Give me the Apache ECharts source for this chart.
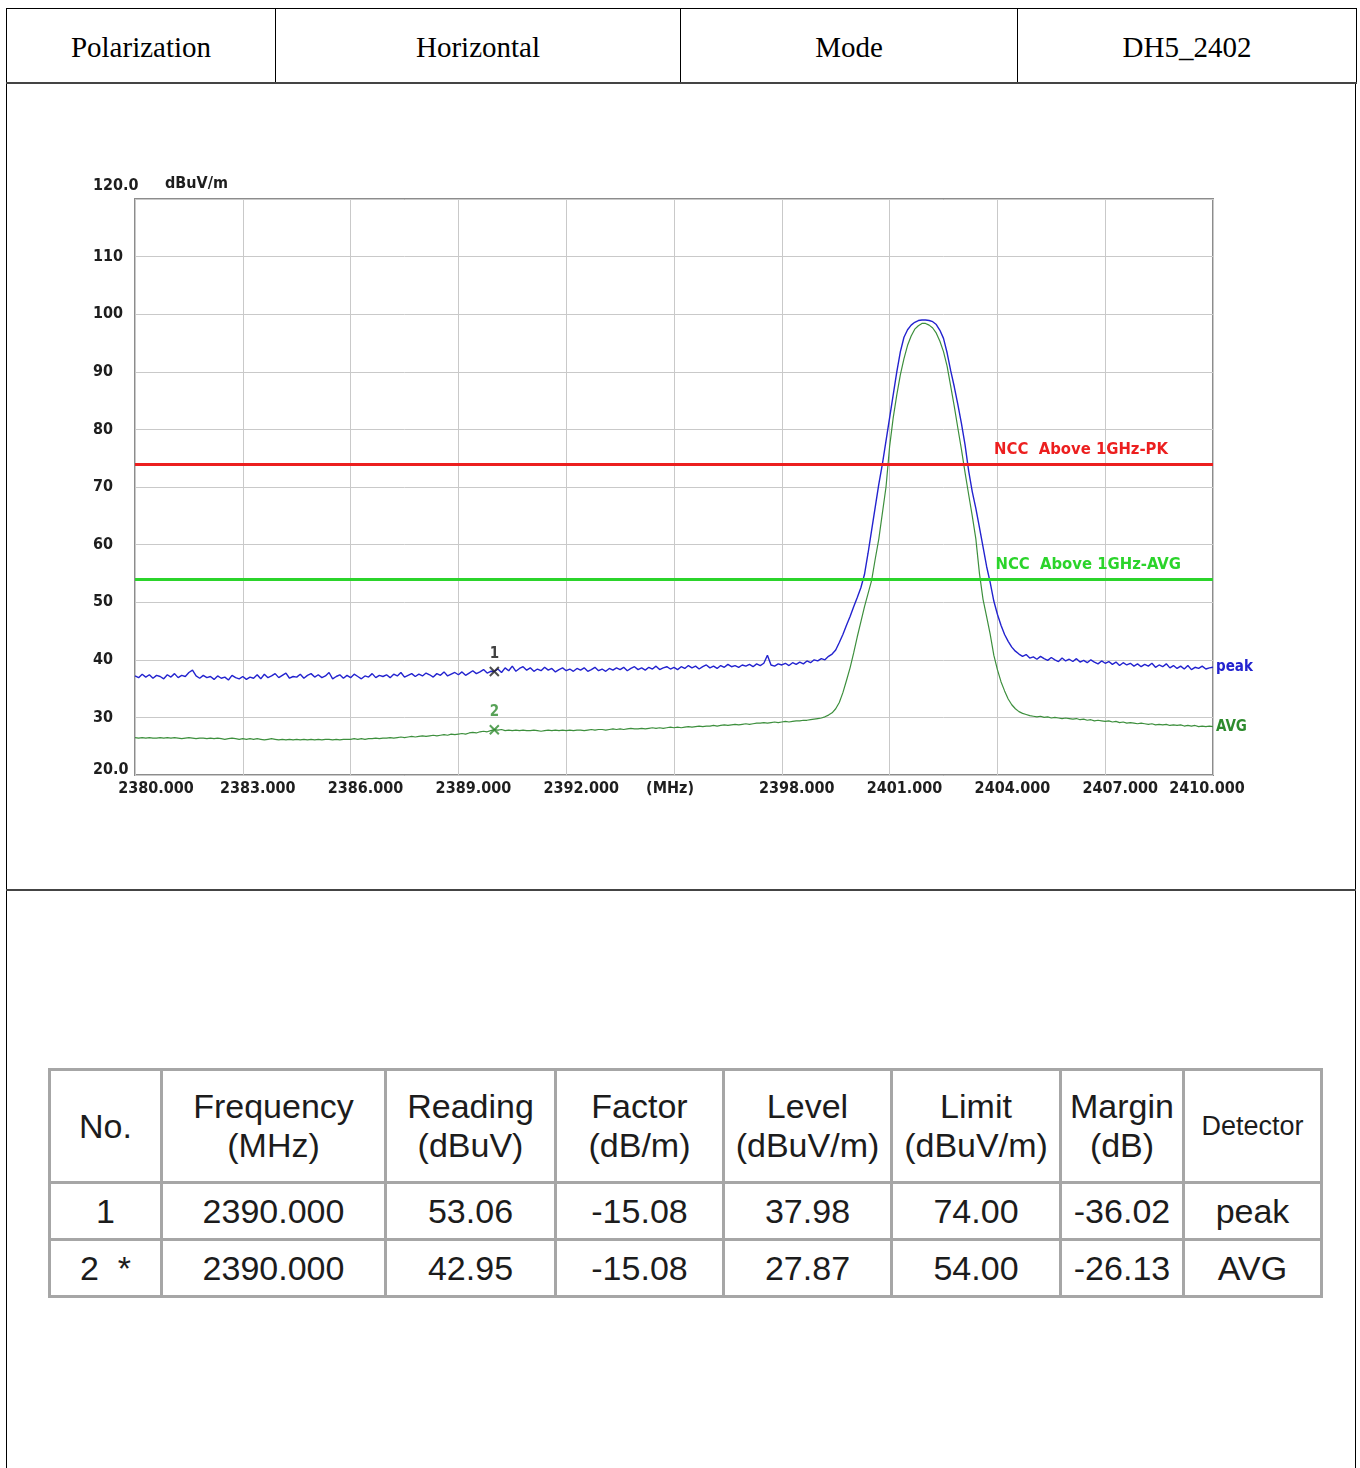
<!DOCTYPE html>
<html>
<head>
<meta charset="utf-8">
<script src="https://cdn.jsdelivr.net/npm/echarts@6/dist/echarts.min.js"></script>
<style>
html,body{margin:0;padding:0;background:#fff;}
body{width:1360px;height:1468px;position:relative;overflow:hidden;}
#hdr{position:absolute;left:6px;top:8px;width:1350px;height:76px;border-collapse:collapse;table-layout:fixed;font-family:'Liberation Serif','Times New Roman',serif;font-size:29px;color:#000;}
#hdr td{border:1px solid #000;text-align:center;vertical-align:middle;padding:4px 0 0 0;}
#hdr tr td{border-bottom:2px solid #444;}
.vl{position:absolute;top:84px;width:1px;height:1400px;background:#000;}
.hl{position:absolute;left:6px;width:1350px;height:2px;background:#444;}
#chart{position:absolute;left:85px;top:165px;width:1190px;height:645px;}
#dt{position:absolute;left:48px;top:1068px;width:1272px;border-collapse:collapse;table-layout:fixed;font-family:'Liberation Sans',Arial,sans-serif;color:#1c1c1c;}
#dt td{border:3px solid #a6a6a6;text-align:center;vertical-align:middle;padding:0;font-size:34px;}
#dt tr.h td{height:110px;line-height:39px;}
#dt tr.r td{height:54px;}
#dt td.det{font-size:27px;}
</style>
</head>
<body>
<table id="hdr"><colgroup><col style="width:269px"><col style="width:405px"><col style="width:337px"><col style="width:339px"></colgroup>
<tr><td>Polarization</td><td>Horizontal</td><td>Mode</td><td>DH5_2402</td></tr></table>
<div class="vl" style="left:6px"></div>
<div class="vl" style="left:1355px"></div>
<div class="hl" style="top:889px"></div>
<div id="chart"></div>
<table id="dt">
<colgroup><col style="width:112px"><col style="width:224px"><col style="width:170px"><col style="width:168px"><col style="width:168px"><col style="width:169px"><col style="width:123px"><col style="width:138px"></colgroup>
<tr class="h"><td>No.</td><td>Frequency<br>(MHz)</td><td>Reading<br>(dBuV)</td><td>Factor<br>(dB/m)</td><td>Level<br>(dBuV/m)</td><td>Limit<br>(dBuV/m)</td><td>Margin<br>(dB)</td><td class="det">Detector</td></tr>
<tr class="r"><td>1</td><td>2390.000</td><td>53.06</td><td>-15.08</td><td>37.98</td><td>74.00</td><td>-36.02</td><td>peak</td></tr>
<tr class="r"><td>2&nbsp;&nbsp;*</td><td>2390.000</td><td>42.95</td><td>-15.08</td><td>27.87</td><td>54.00</td><td>-26.13</td><td>AVG</td></tr>
</table>
<script>
// sweep grid (MHz)
const freqStart = 2380, freqStep = 0.1;

// Peak detector trace (dBuV/m), one value per 0.1 MHz from 2380.0 to 2410.0
const peakTrace = [
37.2,36.9,37.5,37.0,37.4,36.8,37.3,37.1,36.7,37.4,
37.0,37.6,36.9,37.3,37.1,37.8,38.2,37.2,36.8,37.3,
36.9,37.1,36.6,37.2,36.8,37.0,36.5,37.3,36.9,36.7,
37.1,36.6,37.0,36.8,37.4,36.7,37.5,36.9,37.2,37.6,
36.9,37.3,37.7,36.8,37.1,37.0,37.5,36.8,37.3,37.6,
37.0,37.4,36.9,37.2,37.8,36.7,37.1,37.4,36.8,37.3,
36.9,37.5,37.1,36.7,37.2,37.0,37.6,36.9,37.3,37.1,
37.4,36.9,37.5,37.2,37.8,37.0,37.3,37.6,37.1,37.5,
37.2,37.7,37.4,37.0,37.6,37.3,37.9,37.2,37.5,37.8,
37.4,37.9,37.3,37.7,38.1,37.6,37.9,38.3,37.7,38.0,
37.98,38.4,37.8,38.6,38.1,38.9,38.0,38.5,38.8,38.2,
38.6,38.0,38.4,38.1,38.7,38.2,38.5,37.9,38.3,38.6,
38.1,38.4,38.0,38.5,38.2,38.6,38.0,38.3,38.7,38.1,
38.4,38.0,38.5,38.2,38.6,38.3,38.7,38.1,38.5,38.8,
38.3,38.6,38.2,38.7,38.4,38.9,38.3,38.6,38.8,38.4,
38.7,38.3,38.8,38.5,39.0,38.6,38.9,38.4,38.8,39.1,
38.6,38.9,38.5,39.0,38.7,39.2,38.8,39.0,38.7,39.1,
38.9,39.2,38.8,39.3,39.0,39.4,40.8,39.1,38.9,39.3,
39.1,39.4,39.0,39.5,39.2,39.6,39.3,39.8,39.5,40.0,
39.8,40.2,40.0,40.6,41.0,41.7,43.0,44.4,46.0,47.5,
49.2,50.8,52.5,54.8,58.5,62.5,66.5,70.5,74.0,78.0,
82.0,86.0,90.0,93.5,96.0,97.3,98.1,98.6,98.9,99.0,
99.0,98.9,98.7,98.2,97.2,95.8,93.3,90.2,87.4,84.3,
81.0,77.3,72.8,69.2,66.3,63.0,59.6,56.2,53.4,50.2,
47.9,46.0,44.4,43.2,42.2,41.5,41.0,40.6,40.9,40.3,
40.5,40.1,40.6,40.2,39.9,40.4,40.0,39.7,40.3,39.8,
40.1,39.7,40.2,39.6,39.9,39.5,40.0,39.6,39.3,39.8,
39.4,39.7,39.2,39.6,39.0,39.5,39.1,39.4,38.9,39.3,
38.8,39.2,38.9,39.4,38.7,39.1,38.8,39.3,38.6,39.0,
38.5,38.9,38.4,39.0,38.3,38.7,38.5,38.9,38.4,38.6,
38.7
];

// Average detector trace (dBuV/m), same grid
const avgTrace = [
26.5,26.4,26.5,26.4,26.5,26.4,26.4,26.5,26.4,26.5,
26.4,26.5,26.4,26.3,26.4,26.5,26.4,26.3,26.4,26.4,
26.3,26.4,26.3,26.4,26.3,26.2,26.3,26.4,26.3,26.2,
26.3,26.2,26.3,26.2,26.3,26.2,26.1,26.2,26.3,26.2,
26.1,26.2,26.1,26.2,26.1,26.2,26.1,26.2,26.1,26.2,
26.1,26.2,26.1,26.2,26.2,26.1,26.2,26.1,26.2,26.2,
26.2,26.3,26.2,26.3,26.2,26.3,26.3,26.4,26.3,26.4,
26.4,26.5,26.4,26.5,26.6,26.5,26.6,26.7,26.6,26.7,
26.8,26.7,26.8,26.9,26.8,26.9,27.0,26.9,27.1,27.0,
27.1,27.2,27.1,27.3,27.4,27.3,27.5,27.6,27.5,27.7,
27.87,27.8,27.9,27.7,27.8,27.7,27.8,27.7,27.8,27.7,
27.7,27.8,27.7,27.6,27.7,27.8,27.7,27.8,27.7,27.8,
27.7,27.8,27.7,27.8,27.8,27.7,27.8,27.9,27.8,27.9,
27.9,27.8,27.9,28.0,27.9,28.0,27.9,28.0,28.1,28.0,
28.0,28.1,28.0,28.1,28.2,28.1,28.2,28.1,28.2,28.3,
28.2,28.3,28.2,28.3,28.4,28.3,28.4,28.5,28.4,28.5,
28.5,28.6,28.5,28.6,28.7,28.6,28.7,28.8,28.7,28.8,
28.9,28.8,28.9,29.0,29.0,29.1,29.0,29.1,29.2,29.1,
29.2,29.3,29.2,29.3,29.4,29.4,29.5,29.5,29.6,29.7,
29.8,29.9,30.1,30.4,30.8,31.5,32.6,34.3,36.4,38.6,
41.2,44.0,46.6,49.2,51.5,53.8,57.5,61.0,65.5,70.0,
77.0,82.0,86.0,89.5,92.3,94.6,96.2,97.4,98.0,98.4,
98.4,98.1,97.6,96.7,95.3,93.5,91.0,87.5,84.0,80.2,
76.5,72.5,68.7,65.0,61.0,55.0,50.5,47.5,44.4,40.8,
38.3,36.2,34.6,33.2,32.2,31.5,31.0,30.7,30.5,30.3,
30.2,30.1,30.2,30.0,30.1,29.9,30.0,29.9,29.8,29.9,
29.8,29.7,29.8,29.6,29.7,29.5,29.6,29.4,29.5,29.4,
29.3,29.4,29.2,29.3,29.1,29.2,29.0,29.1,29.0,28.9,
29.0,28.9,28.8,28.9,28.7,28.8,28.7,28.8,28.6,28.7,
28.6,28.7,28.5,28.6,28.5,28.6,28.4,28.5,28.4,28.5,
28.4
];

// limit lines
const limitValues = [74, 54];
const limitNames = ['NCC  Above 1GHz-PK', 'NCC  Above 1GHz-AVG'];

// markers
const markerNo = ['1', '2'];
const markerFreq = [2390.0, 2390.0];
const markerLevel = [37.98, 27.87];

// axis tick labels
const xTickValues = [2380, 2383, 2386, 2389, 2392, 2395, 2398, 2401, 2404, 2407, 2410];
const xTickLabels = ['2380.000', '2383.000', '2386.000', '2389.000', '2392.000', '(MHz)', '2398.000', '2401.000', '2404.000', '2407.000', '2410.000'];
const yTickValues = [20, 30, 40, 50, 60, 70, 80, 90, 100, 110, 120];
const yTickLabels = ['20.0', '30', '40', '50', '60', '70', '80', '90', '100', '110', '120.0'];
const yUnit = 'dBuV/m';

const FONT = "'DejaVu Sans Condensed','DejaVu Sans',sans-serif";
const toPairs = arr => arr.map((v, i) => [+(freqStart + i * freqStep).toFixed(1), v]);

const chart = echarts.init(document.getElementById('chart'));
const txt = {fontFamily: FONT, fontWeight: 'bold', fontSize: 16, color: '#1e1e1e'};

chart.setOption({
  animation: false,
  backgroundColor: '#fff',
  grid: {left: 50, top: 34, right: 62, bottom: 35, show: true, borderColor: '#8c8c8c', borderWidth: 2, backgroundColor: 'transparent'},
  xAxis: {
    type: 'value', min: 2380, max: 2410, interval: 3,
    axisLine: {show: false}, axisTick: {show: false},
    splitLine: {show: true, lineStyle: {color: '#c9c9c9', width: 1}},
    axisLabel: {
      margin: 6, showMinLabel: true, showMaxLabel: true,
      formatter: v => {
        const i = xTickValues.indexOf(Math.round(v));
        const s = i >= 0 ? xTickLabels[i] : '';
        if (i === 0) return '{f|' + s + '}';
        if (i === 5) return '{m|' + s + '}';
        if (i === xTickValues.length - 1) return '{l|' + s + '}';
        return '{n|' + s + '}';
      },
      rich: {
        n: Object.assign({}, txt, {padding: [0, 0, 0, 30]}),
        f: Object.assign({}, txt, {padding: [0, 0, 0, 42]}),
        m: Object.assign({}, txt, {padding: [0, 8, 0, 0]}),
        l: Object.assign({}, txt, {padding: [0, 12, 0, 0]})
      }
    }
  },
  yAxis: {
    type: 'value', min: 20, max: 120, interval: 10,
    axisLine: {show: false}, axisTick: {show: false},
    splitLine: {show: true, lineStyle: {color: '#c9c9c9', width: 1}},
    axisLabel: {
      align: 'left', margin: 42, showMinLabel: true, showMaxLabel: true,
      formatter: v => {
        const i = yTickValues.indexOf(Math.round(v));
        const s = i >= 0 ? yTickLabels[i] : '';
        if (i === yTickValues.length - 1) return '{t|' + s + '}';
        if (i === 0) return '{b|' + s + '}';
        return '{n|' + s + '}';
      },
      rich: {
        n: Object.assign({}, txt, {align: 'left'}),
        t: Object.assign({}, txt, {align: 'left', padding: [0, 0, 26, 0]}),
        b: Object.assign({}, txt, {align: 'left', padding: [0, 0, 10, 0]})
      }
    }
  },
  graphic: [{
    type: 'text', left: 80, top: 11,
    style: {text: yUnit, font: "bold 16px " + FONT, fill: '#1e1e1e'}
  }],
  series: [
    {
      name: 'limits', type: 'line', data: [], silent: true,
      markLine: {
        silent: true, symbol: ['none', 'none'], animation: false,
        data: [
          {yAxis: limitValues[0], lineStyle: {color: '#ec1f1f', width: 3, type: 'solid'},
           label: {show: true, formatter: limitNames[0], position: 'insideEndTop', distance: [45, 6],
                   color: '#ec1f1f', fontFamily: FONT, fontWeight: 'bold', fontSize: 16.5}},
          {yAxis: limitValues[1], lineStyle: {color: '#2bd42b', width: 3, type: 'solid'},
           label: {show: true, formatter: limitNames[1], position: 'insideEndTop', distance: [32, 6],
                   color: '#2bd42b', fontFamily: FONT, fontWeight: 'bold', fontSize: 16.5}}
        ]
      }
    },
    {
      name: 'AVG', type: 'line', data: toPairs(avgTrace), showSymbol: false,
      lineStyle: {color: '#3d8f3d', width: 1.2}, itemStyle: {color: '#3d8f3d'},
      endLabel: {show: true, formatter: 'AVG', color: '#2e8b2e', fontFamily: FONT, fontWeight: 'bold', fontSize: 15, distance: 3}
    },
    {
      name: 'peak', type: 'line', data: toPairs(peakTrace), showSymbol: false,
      lineStyle: {color: '#2323cf', width: 1.4}, itemStyle: {color: '#2323cf'},
      endLabel: {show: true, formatter: 'peak', color: '#2323cf', fontFamily: FONT, fontWeight: 'bold', fontSize: 15, distance: 3}
    },
    {
      name: 'markers', type: 'scatter', z: 5,
      symbol: 'path://M0,0L10,10M10,0L0,10', symbolSize: 9,
      data: markerFreq.map((f, i) => ({
        value: [f, markerLevel[i]],
        itemStyle: {color: 'none', borderColor: i === 0 ? '#222' : '#2e8b2e', borderWidth: 2},
        label: {show: true, position: 'top', distance: 3, formatter: markerNo[i],
                color: i === 0 ? '#111' : '#2e8b2e', fontFamily: FONT, fontWeight: 'bold', fontSize: 15}
      }))
    }
  ]
});
</script>
</body>
</html>
